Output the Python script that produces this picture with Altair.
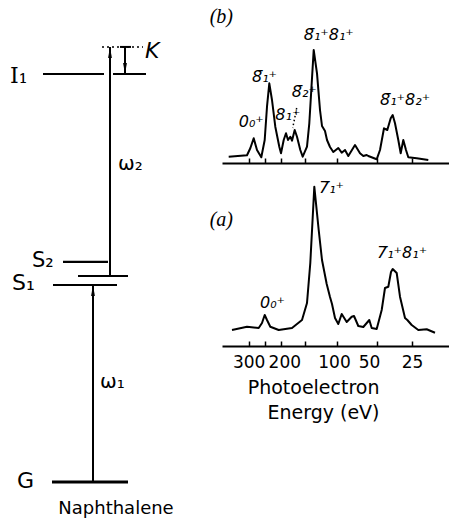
import altair as alt
import pandas as pd

# ---------------- naphthalene level scheme (eV above the ground state) ----------------
level_key = ["G", "S1", "S1v", "S2", "I1", "virt"]
level_ev = [0.0, 3.93, 4.11, 4.39, 8.14, 8.68]

# photon steps: label, lower level, upper level
step_label = ["\u03c9\u2081", "\u03c9\u2082"]
step_lower = ["G", "S1v"]
step_upper = ["S1", "virt"]

# ---------------- photoelectron spectra (flight-time channel, counts) ----------------
chan_b = [6.7, 25, 28.3, 31.7, 35, 39.3, 42.7, 45, 47.3, 50, 53.3, 57.3, 59, 61.7,
          64, 66, 68.3, 70, 72.7, 75, 78.3, 80.7, 85, 87.3, 89.3, 91.7, 95, 98, 100,
          103, 105, 108, 111.3, 116.3, 119.7, 123, 126.3, 133, 138, 141.3, 144.7,
          146.3, 154.7, 158, 162, 165.3, 168.7, 170.7, 173, 176.3, 178.7, 181.3, 184,
          186.3, 194.7, 206.3]
count_b = [6.3, 7.7, 14.7, 24.7, 13, 5.7, 23, 56.3, 79.7, 63, 36.3, 16.3, 9.7, 23,
           29.7, 23, 26.3, 22.3, 33, 26.3, 13, 6.3, 16.3, 39.7, 73, 113, 89.7, 53, 37,
           32, 23, 16, 11, 15, 10.3, 13, 7, 18, 9.7, 7, 8,
           7, 3.7, 13, 34.7, 33, 44.7, 48, 39.7, 23, 9.7, 23, 13,
           5.7, 4.7, 3]

chan_a = [10, 25, 36.7, 40, 42.7, 45, 48.3, 56.7, 70, 80, 85, 88.3, 90.3, 92.3, 96.7,
          100, 104.7, 108, 110, 113, 116.3, 119.7, 124.7, 129.7, 132, 136.3, 141.3,
          147.3, 149.7, 154.7, 159.7, 163, 166.3, 169, 170.7, 174.7, 178, 183, 185.3,
          189.7, 196.3, 204.7, 213]
count_a = [16, 19.3, 18, 23, 31, 26, 19.3, 16, 18, 26, 43, 83, 121, 159.3, 116,
           86, 62, 49, 42, 28, 22, 32, 24, 29.3, 30, 20, 19,
           26, 18, 17, 36, 58, 59.3, 74, 77, 73, 49.3, 28, 26,
           21, 16, 16.7, 13.3]

# energy calibration of the channel axis
tick_chan = [26.7, 43.0, 59.3, 83.3, 115.0, 155.0, 190.0]
tick_text = ["300", "", "200", "", "100", "50", "25"]

# band assignments with their label anchors (channel, counts)
band_b_text = ["0\u2080\u207a", "8\u0304\u2081\u207a", "8\u2081\u207a", "8\u0304\u2082\u207a",
               "8\u0304\u2081\u207a8\u2081\u207a", "8\u0304\u2081\u207a8\u2082\u207a"]
band_b_chan = [16.7, 30.0, 53.3, 69.7, 81.7, 158.0]
band_b_count = [36, 81, 43, 66, 123, 58]

band_a_text = ["0\u2080\u207a", "7\u0304\u2081\u207a", "7\u0304\u2081\u207a8\u2081\u207a"]
band_a_chan = [38.0, 97.0, 155.0]
band_a_count = [38, 153, 88]

# ---------------- scales ----------------
E = dict(zip(level_key, level_ev))
SANS = "DejaVu Sans"
diag_x = alt.Scale(domain=[0, 449], range=[0, 449], zero=False, nice=False)
diag_y = alt.Scale(domain=[0, 8.14], range=[482, 74], zero=False, nice=False)
chan_x = alt.Scale(domain=[0, 227], range=[222, 449], zero=False, nice=False)
b_y = alt.Scale(domain=[0, 120], range=[163, 43], zero=False, nice=False)
a_y = alt.Scale(domain=[0, 160], range=[346, 186], zero=False, nice=False)

layers = []

# level lines (horizontal spans are diagram layout)
level_lines = pd.DataFrame([
    {"e": E["G"], "x0": 52, "x1": 128, "w": 2.8},
    {"e": E["S1"], "x0": 53, "x1": 117, "w": 2.2},
    {"e": E["S1v"], "x0": 78, "x1": 128, "w": 2.2},
    {"e": E["S2"], "x0": 63, "x1": 108, "w": 2.2},
    {"e": E["I1"], "x0": 43, "x1": 104, "w": 2.2},
    {"e": E["I1"], "x0": 113, "x1": 146, "w": 2.2},
])
layers.append(alt.Chart(level_lines).mark_rule(color="black").encode(
    x=alt.X("x0:Q", scale=diag_x, axis=None),
    x2="x1:Q",
    y=alt.Y("e:Q", scale=diag_y, axis=None),
    strokeWidth=alt.StrokeWidth("w:Q", scale=None, legend=None),
))

# dotted final (virtual) level and the cap of the K arrow
layers.append(alt.Chart(pd.DataFrame({"e": [E["virt"]], "x0": [102], "x1": [143]}))
              .mark_rule(color="black", strokeWidth=1.6, strokeDash=[2, 3]).encode(
    x=alt.X("x0:Q", scale=diag_x, axis=None), x2="x1:Q",
    y=alt.Y("e:Q", scale=diag_y, axis=None)))
layers.append(alt.Chart(pd.DataFrame({"e": [E["virt"]], "x0": [120], "x1": [131]}))
              .mark_rule(color="black", strokeWidth=2).encode(
    x=alt.X("x0:Q", scale=diag_x, axis=None), x2="x1:Q",
    y=alt.Y("e:Q", scale=diag_y, axis=None)))

# arrow shafts: two photon steps plus the kinetic-energy arrow K
shafts = pd.DataFrame({
    "lo": [E[k] for k in step_lower] + [E["I1"]],
    "hi": [E[k] for k in step_upper] + [E["virt"]],
    "x": [93, 110, 125],
})
layers.append(alt.Chart(shafts).mark_rule(color="black", strokeWidth=2).encode(
    x=alt.X("x:Q", scale=diag_x, axis=None),
    y=alt.Y("lo:Q", scale=diag_y, axis=None), y2="hi:Q"))

UP = "M0,0L-0.38,2.2L0.38,2.2Z"
DOWN = "M0,0L-0.38,-2.2L0.38,-2.2Z"
heads = pd.DataFrame({
    "x": [93, 110, 125],
    "e": [E[k] for k in step_upper] + [E["I1"]],
    "dir": ["up", "up", "down"],
})
layers.append(alt.Chart(heads).mark_point(filled=True, size=100, color="black", opacity=1).encode(
    x=alt.X("x:Q", scale=diag_x, axis=None),
    y=alt.Y("e:Q", scale=diag_y, axis=None),
    shape=alt.Shape("dir:N", scale=alt.Scale(domain=["up", "down"], range=[UP, DOWN]), legend=None)))


def diagram_text(text, energy, x, dy, size=21, font=SANS, style="normal", align="left"):
    return alt.Chart(pd.DataFrame({"t": [text], "e": [energy]})).mark_text(
        align=align, baseline="alphabetic", dy=dy, font=font, fontSize=size,
        fontStyle=style, color="black").encode(
        x=alt.value(x), y=alt.Y("e:Q", scale=diag_y, axis=None), text="t:N")


layers += [
    diagram_text("I\u2081", E["I1"], 10, 9, size=22, font="DejaVu Serif"),
    diagram_text("S\u2082", E["S2"], 32, 5),
    diagram_text("S\u2081", E["S1"], 12, 5, size=22),
    diagram_text("G", E["G"], 17, 6, size=22),
    diagram_text("K", E["virt"], 145, 11, size=22, style="italic"),
    diagram_text("Naphthalene", E["G"], 116, 32, size=18, align="center"),
]
# photon labels at the middle of each step
for lab, lo, hi, x, dy in zip(step_label, step_lower, step_upper, [100, 118], [4.5, 8.5]):
    layers.append(diagram_text(lab, (E[lo] + E[hi]) / 2, x, dy, size=20))

# ---------------- spectra ----------------
tick_axis = dict(orient="top", values=tick_chan, labels=False, grid=False, title=None,
                 domain=True, domainColor="black", domainWidth=2,
                 ticks=True, tickColor="black", tickWidth=1.5, tickSize=5)

spec_b = pd.DataFrame({"c": chan_b, "n": count_b})
spec_a = pd.DataFrame({"c": chan_a, "n": count_a})

layers.append(alt.Chart(spec_b).mark_line(color="black", strokeWidth=2, strokeJoin="round").encode(
    x=alt.X("c:Q", scale=chan_x, axis=alt.Axis(offset=-163, **tick_axis)),
    y=alt.Y("n:Q", scale=b_y, axis=None)))
layers.append(alt.Chart(spec_a).mark_line(color="black", strokeWidth=2, strokeJoin="round").encode(
    x=alt.X("c:Q", scale=chan_x, axis=alt.Axis(offset=-346, **tick_axis)),
    y=alt.Y("n:Q", scale=a_y, axis=None)))

lab_vals = [c for c, t in zip(tick_chan, tick_text) if t]
lab_txt = [t for t in tick_text if t]
label_expr = "[{}][indexof([{}], datum.value)]".format(
    ",".join("'%s'" % t for t in lab_txt), ",".join(str(v) for v in lab_vals))
energy_axis = alt.Axis(
    orient="bottom", offset=-172, values=lab_vals, labelExpr=label_expr,
    domain=False, ticks=False, tickSize=0, grid=False,
    labelPadding=8, labelFont=SANS, labelFontSize=17, labelColor="black",
    labelFlush=False, labelOverlap=False,
    labelOffset={"condition": [{"test": "datum.value == 59.3", "value": 3},
                               {"test": "datum.value == 115", "value": -3},
                               {"test": "datum.value == 155", "value": -8}],
                 "value": 0},
    title=["Photoelectron", "Energy (eV)"], titleX=379, titleY=47,
    titleAlign="right", titleBaseline="alphabetic", titleFont=SANS,
    titleFontSize=19, titleFontWeight="normal", titleColor="black", titleLineHeight=25)

band_style = dict(align="left", baseline="alphabetic", font=SANS,
                  fontSize=16, fontStyle="italic", color="black")
layers.append(alt.Chart(pd.DataFrame({"t": band_b_text, "c": band_b_chan, "n": band_b_count}))
              .mark_text(**band_style).encode(
    x=alt.X("c:Q", scale=chan_x, axis=None),
    y=alt.Y("n:Q", scale=b_y, axis=None), text="t:N"))
layers.append(alt.Chart(pd.DataFrame({"t": band_a_text, "c": band_a_chan, "n": band_a_count}))
              .mark_text(**band_style).encode(
    x=alt.X("c:Q", scale=chan_x, axis=energy_axis),
    y=alt.Y("n:Q", scale=a_y, axis=None), text="t:N"))

# dotted pointer from the 8-bar-2 label to its band
layers.append(alt.Chart(pd.DataFrame({"c0": [74.7], "n0": [55], "c1": [70.7], "n1": [35]}))
              .mark_rule(color="black", strokeWidth=1.5, strokeDash=[1.5, 2.5]).encode(
    x=alt.X("c0:Q", scale=chan_x, axis=None), x2="c1:Q",
    y=alt.Y("n0:Q", scale=b_y, axis=None), y2="n1:Q"))

# panel tags
for tag, ypix in [("(b)", 23), ("(a)", 226)]:
    layers.append(alt.Chart(pd.DataFrame({"t": [tag]})).mark_text(
        align="right", baseline="alphabetic", font="Liberation Serif", fontSize=20,
        fontStyle="italic", color="black").encode(
        x=alt.value(233), y=alt.value(ypix), text="t:N"))

chart = (alt.layer(*layers)
         .resolve_scale(x="independent", y="independent")
         .properties(width=449, height=518, padding=0,
                     autosize=alt.AutoSizeParams(type="none"))
         .configure_view(stroke=None))

chart.save("out.html", embed_options={"renderer": "svg", "actions": False})
